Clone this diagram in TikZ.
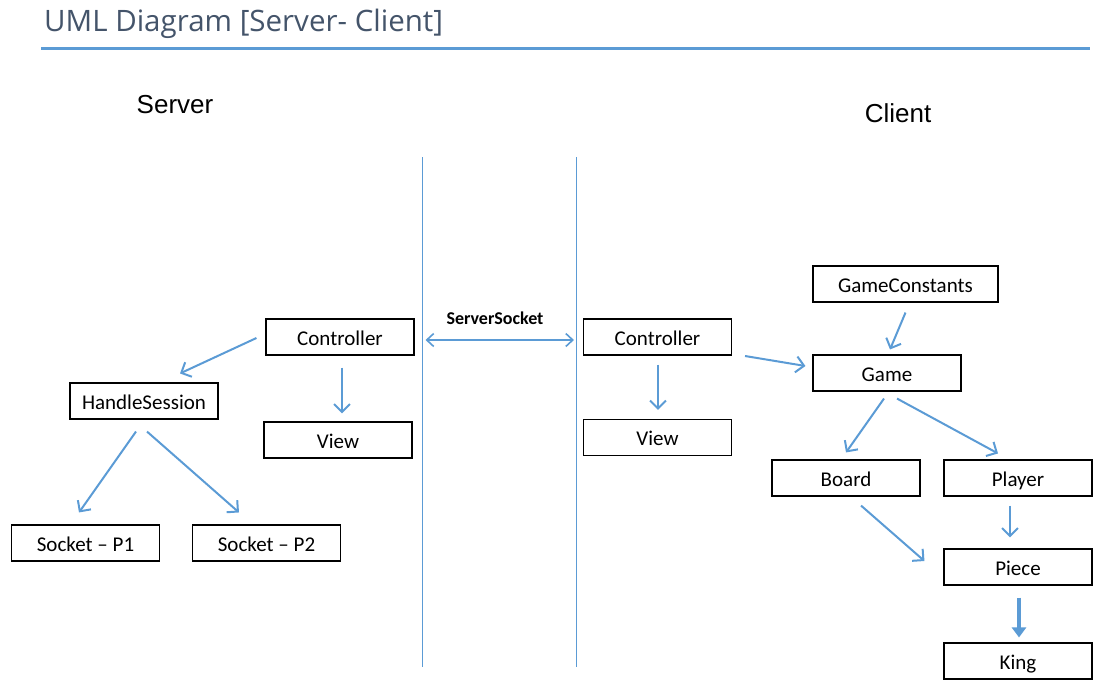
\documentclass[tikz,border=0pt]{standalone}
\usepackage{fontspec}
\setmainfont{Carlito}
\newfontfamily\titlefont{Open Sans}
\newfontfamily\arialfont{Liberation Sans}
\usetikzlibrary{arrows.meta,calc}
\definecolor{officeblue}{HTML}{5B9BD5}
\definecolor{titlegray}{HTML}{44546A}
\tikzset{
  cls/.style={draw=black, line width=1.1pt, minimum width=148pt, minimum height=36pt, inner sep=0pt,
    text height=20pt, text depth=4pt, font=\fontsize{21}{24}\selectfont},
  rel/.style={draw=officeblue, line width=2pt, -{Straight Barb[length=8pt,width=16pt,line width=2pt]}},
  bigrel/.style={draw=officeblue, line width=4pt, -{Triangle[length=10pt,width=14pt]}},
  sep/.style={draw=officeblue, line width=1pt},
  both/.style={draw=officeblue, line width=1.6pt, {Straight Barb[length=7pt,width=13pt,line width=1.6pt]}-{Straight Barb[length=7pt,width=13pt,line width=1.6pt]}},
  side/.style={font=\arialfont\fontsize{26}{30}\selectfont},
}
\begin{document}
\begin{tikzpicture}[x=1pt,y=-1pt]
\useasboundingbox (0,0) rectangle (1110,691);
% title
\node[anchor=west, inner sep=0pt, text=titlegray, font=\titlefont\fontsize{29.5}{34}\selectfont] (title) at (44,24) {UML Diagram [Server- Client]};
\coordinate (rl) at (41,48);
\coordinate (rr) at (1090,48);
\draw[draw=officeblue, line width=3pt] (rl) -- (rr);
% side labels
\node[side, inner sep=0pt] (server) at (175,105) {Server};
\node[side, inner sep=0pt] (client) at (898,113) {Client};
% separators
\coordinate (l1t) at (422,157); \coordinate (l1b) at (422,667);
\coordinate (l2t) at (576,157); \coordinate (l2b) at (576,667);
\draw[sep] (l1t) -- (l1b);
\draw[sep] (l2t) -- (l2b);
% server side
\node[cls] (ctrlS) at (340,337) {Controller};
\node[cls] (viewS) at (338,440) {View};
\node[cls] (hs) at (144,401) {HandleSession};
\node[cls] (sp1) at (85.5,543) {Socket -- P1};
\node[cls] (sp2) at (266.5,543) {Socket -- P2};
% client side
\node[cls] (ctrlC) at (657.5,337) {Controller};
\node[cls] (viewC) at (657.5,437.5) {View};
\node[cls, minimum width=185pt] (gc) at (905.5,284) {GameConstants};
\node[cls] (game) at (887,373) {Game};
\node[cls] (board) at (846,478) {Board};
\node[cls] (player) at (1018,478) {Player};
\node[cls] (piece) at (1018,567) {Piece};
\node[cls] (king) at (1018,661) {King};
% socket label
\node[inner sep=0pt, font=\bfseries\fontsize{18}{21}\selectfont] (ss) at (495,318) {ServerSocket};
% connectors
\draw[both] ($(ctrlS.east)+(11,3)$) -- ($(ctrlC.west)+(-9,3)$);
\draw[rel] ($(ctrlS.west)+(-9,1)$) -- ($(hs.north)+(36,-9)$);
\draw[rel] ($(ctrlS.south)+(2,12)$) -- ($(viewS.north)+(4,-8)$);
\draw[rel] ($(hs.south)+(-8,12)$) -- ($(sp1.north)+(-6.5,-12)$);
\draw[rel] ($(hs.south)+(3,12)$) -- ($(sp2.north)+(-27.5,-12)$);
\draw[rel] ($(ctrlC.south)+(0.5,9)$) -- ($(viewC.north)+(0.5,-9)$);
\draw[rel] ($(ctrlC.east)+(13,19)$) -- ($(game.west)+(-7,-7)$);
\draw[rel] ($(gc.south)+(0,10)$) -- ($(game.north)+(3,-5)$);
\draw[rel] ($(game.south)+(-3,7)$) -- ($(board.north)+(0,-7)$);
\draw[rel] ($(game.south)+(10,7)$) -- ($(player.north)+(-20,-6)$);
\draw[rel] ($(board.south)+(15,9)$) -- ($(piece.west)+(-19,-6)$);
\draw[rel] ($(player.south)+(-8,9)$) -- ($(piece.north)+(-8,-11)$);
\draw[bigrel] ($(piece.south)+(1,12)$) -- ($(king.north)+(1,-5)$);
\end{tikzpicture}
\end{document}
